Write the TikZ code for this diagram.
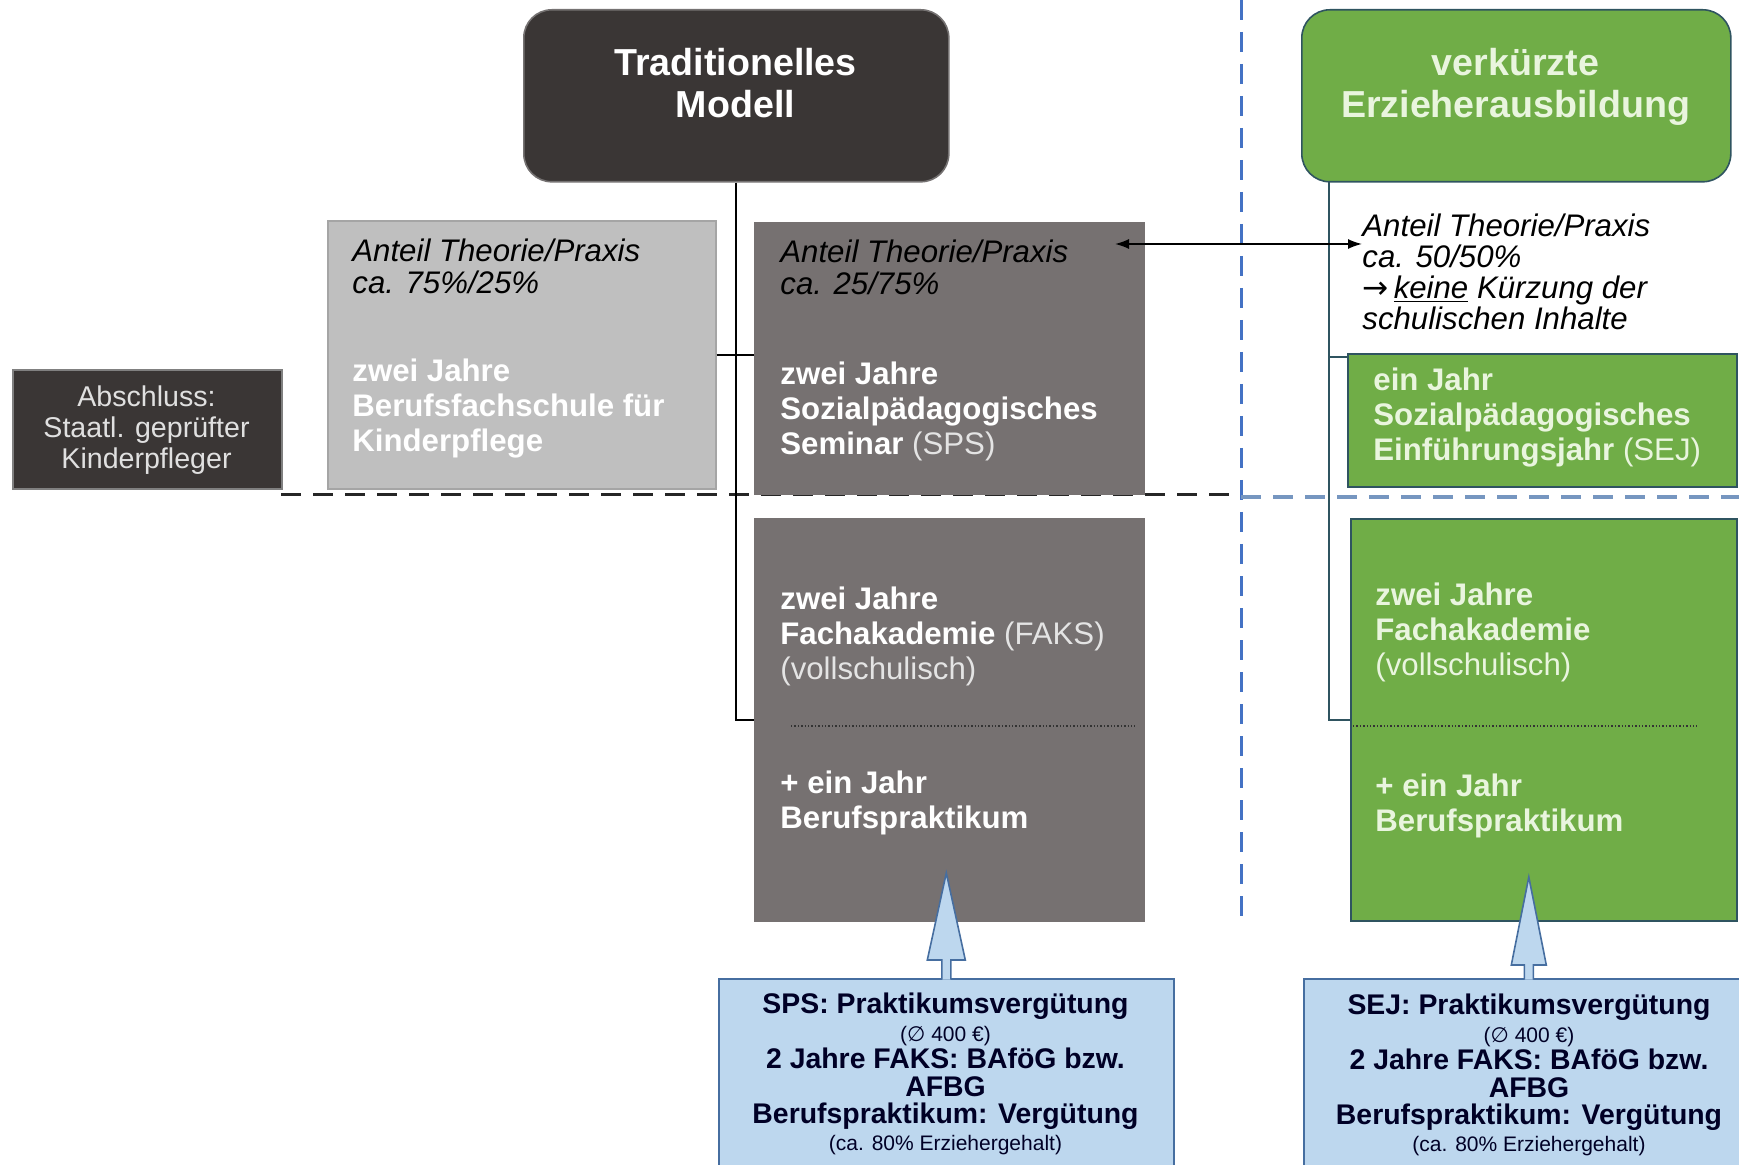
\documentclass[tikz,border=0pt]{standalone}
\usepackage{fontspec}
\setmainfont{Liberation Sans}
\newfontfamily\symfont{DejaVu Sans}
\usepackage{tikz}
\usetikzlibrary{arrows.meta}

\definecolor{darkbox}{RGB}{58,54,53}
\definecolor{midgray}{RGB}{118,113,113}
\definecolor{kpgray}{RGB}{191,191,191}
\definecolor{kpline}{RGB}{165,165,165}
\definecolor{grn}{RGB}{112,173,71}
\definecolor{grnline}{RGB}{47,84,96}
\definecolor{grntext}{RGB}{233,245,222}
\definecolor{paleblue}{RGB}{189,215,238}
\definecolor{blueline}{RGB}{70,110,160}
\definecolor{sepblue}{RGB}{68,114,196}
\definecolor{sepblue2}{RGB}{118,150,192}
\definecolor{partxt}{RGB}{228,228,228}

\newcommand{\kl}[1]{{\mdseries #1}}
\newcommand{\klein}[1]{{\fontsize{10.5}{12}\selectfont\mdseries #1}}

\begin{document}
\begin{tikzpicture}[x=0.5pt,y=-0.5pt,
	feld/.style={rectangle,anchor=north west,inner sep=0pt,line width=0.8pt},
	ttl/.style={align=center,inner sep=0pt,font=\fontsize{18.8}{21}\selectfont\bfseries},
	itx/.style={anchor=north west,align=left,inner sep=0pt,font=\fontsize{15.6}{16}\selectfont\itshape},
	bdx/.style={anchor=north west,align=left,inner sep=0pt,font=\fontsize{15.6}{17.5}\selectfont\bfseries},
	blu/.style={anchor=north,align=center,inner sep=0pt,text=black!85!blue,font=\fontsize{14.2}{13.7}\selectfont\bfseries},
	blk/.style={draw=blueline,fill=paleblue,line width=0.8pt},
	tline/.style={line width=1pt},
	gline/.style={draw=grnline,line width=1.3pt},
	sepline/.style={line width=1.5pt,dash pattern=on 10pt off 6pt},
	dotl/.style={densely dotted,line width=0.7pt,draw=black!80}]
	\useasboundingbox (0,0) rectangle (1739,1165);
	% Trennlinien
	\draw[sepline,sepblue] (1241,0) -- (1241,920);
	\draw[sepline,black!85] (281,495) -- (1231,495);
	\draw[sepline,sepblue2,line width=1.7pt] (1241,497) -- (1739,497);
	% Kaesten
	\node[feld,fill=darkbox,draw=darkbox!70!white,rounded corners=14pt,minimum width=212.5pt,minimum height=86pt] (trad) at (523,9) {};
	\node[feld,fill=grn,draw=grnline,rounded corners=14pt,minimum width=214.5pt,minimum height=86pt] (gtop) at (1301,9) {};
	\node[feld,fill=darkbox,draw=gray,minimum width=134.5pt,minimum height=59.5pt] (abs) at (12,369) {};
	\node[feld,fill=kpgray,draw=kpline,minimum width=194pt,minimum height=134pt] (kin) at (327,220) {};
	\node[feld,fill=midgray,draw=midgray,minimum width=194.5pt,minimum height=135.5pt] (sps) at (754,222) {};
	\node[feld,fill=midgray,draw=midgray,minimum width=194.5pt,minimum height=201pt] (faks) at (754,518) {};
	\node[feld,fill=grn,draw=grnline,minimum width=194.5pt,minimum height=66.5pt] (sej) at (1347,353) {};
	\node[feld,fill=grn,draw=grnline,minimum width=193pt,minimum height=201pt] (gfaks) at (1350,518) {};
	\node[feld,fill=paleblue,draw=blueline,minimum width=227.5pt,minimum height=100pt] (bl) at (718,978) {};
	\node[feld,fill=paleblue,draw=blueline,minimum width=225pt,minimum height=100pt] (br) at (1303,978) {};
	\draw[dotl] (791,726) -- (1135,726);
	\draw[dotl] (1353,726) -- (1697,726);
	% Texte
	\node[ttl,text=white] (ttrad) at (735.5,83) {Traditionelles\\Modell};
	\node[ttl,text=grntext] (tgtop) at (1515.5,87) {verkürzte\\Erzieherausbildung};
	\node[align=center,inner sep=0pt,text=white!88!black,font=\fontsize{14.3}{15.5}\selectfont] (tabs) at (146.5,430) {Abschluss:\\Staatl. geprüfter\\Kinderpfleger};
	\node[itx] (tkin1) at (352,238.5) {Anteil Theorie/Praxis\\ca. 75\%/25\%};
	\node[bdx,text=white] (tkin2) at (352,358.5) {zwei Jahre\\Berufsfachschule für\\Kinderpflege};
	\node[itx] (tsps1) at (780,239) {Anteil Theorie/Praxis\\ca. 25/75\%};
	\node[bdx,text=white] (tsps2) at (780,361.5) {zwei Jahre\\Sozialpädagogisches\\Seminar \kl{\color{partxt}(SPS)}};
	\node[bdx,text=white] (tfaks1) at (780,586.5) {zwei Jahre\\Fachakademie \kl{\color{partxt}(FAKS)}\\\kl{\color{partxt}(vollschulisch)}};
	\node[bdx,text=white] (tfaks2) at (780,770.5) {+ ein Jahr\\Berufspraktikum};
	\node[itx,font=\fontsize{15.6}{15.5}\selectfont\itshape] (tgrn) at (1362,213.5) {Anteil Theorie/Praxis\\ca. 50/50\%\\{\upshape\symfont →}\,\underline{keine} Kürzung der\\schulischen Inhalte};
	\node[bdx,text=grntext] (tsej) at (1373,367.5) {ein Jahr\\Sozialpädagogisches\\Einführungsjahr \kl{(SEJ)}};
	\node[bdx,text=grntext] (tgfaks1) at (1375,582.5) {zwei Jahre\\Fachakademie\\\kl{(vollschulisch)}};
	\node[bdx,text=grntext] (tgfaks2) at (1375,773.5) {+ ein Jahr\\Berufspraktikum};
	\node[blu] (tbl) at (945.5,993) {SPS: Praktikumsvergütung\\\klein{({\symfont ∅} 400 €)}\\2 Jahre FAKS: BAföG bzw.\\AFBG\\Berufspraktikum: Vergütung\\\klein{(ca. 80\% Erziehergehalt)}};
	\node[blu] (tbr) at (1529,994) {SEJ: Praktikumsvergütung\\\klein{({\symfont ∅} 400 €)}\\2 Jahre FAKS: BAföG bzw.\\AFBG\\Berufspraktikum: Vergütung\\\klein{(ca. 80\% Erziehergehalt)}};
	% Verbindungen
	\draw[tline] (trad.south) |- (faks.west);
	\draw[tline] (kin.east) -- (kin.east -| sps.west);
	\coordinate (gstem) at (1329,181);
	\coordinate (gbr) at (1329,357);
	\draw[gline] (gstem) |- (gfaks.west);
	\draw[gline] (gbr) -- (gbr -| sej.west);
	\coordinate (cmp) at (1115,244);
	\draw[line width=0.8pt,{Latex[length=7pt,width=5pt]}-{Latex[length=7pt,width=5pt]}] (cmp) -- (cmp -| tgrn.west);
	\draw[blk] (bl.north) ++(-4.5,1.5) -- ++(0,-19.5) -- ++(-14.5,0) -- ++(19,-87) -- ++(19,87) -- ++(-14.5,0) -- ++(0,19.5);
	\draw[blk] (br.north) ++(-4.5,1.5) -- ++(0,-14.5) -- ++(-13,0) -- ++(17.5,-88) -- ++(17.5,88) -- ++(-13,0) -- ++(0,14.5);
\end{tikzpicture}
\end{document}
